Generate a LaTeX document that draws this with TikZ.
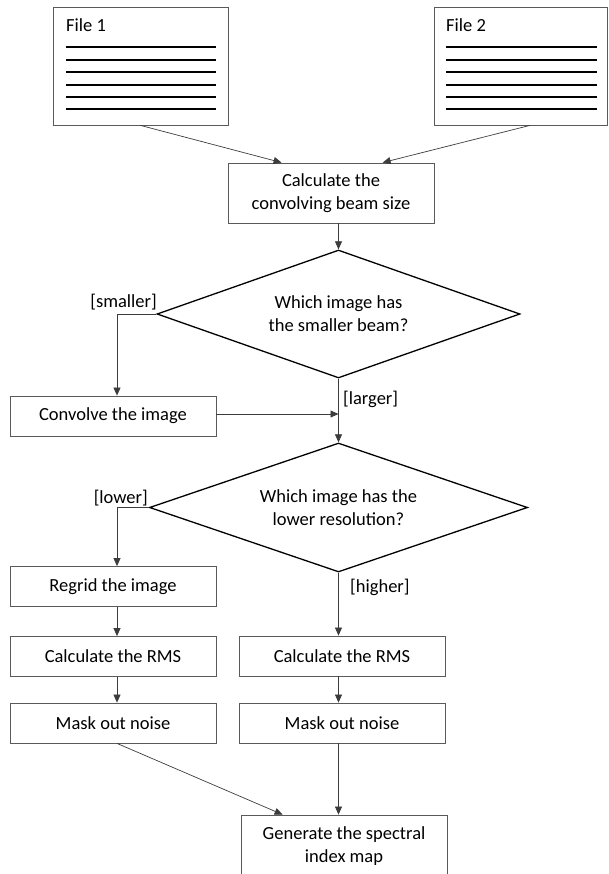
\documentclass[tikz,border=0pt]{standalone}
\usepackage{fontspec}
\setmainfont{Carlito}
\usetikzlibrary{shapes.geometric,arrows.meta}
\definecolor{boxgray}{HTML}{5A5A5A}
\definecolor{arrgray}{HTML}{3C3C3C}
\begin{document}
\begin{tikzpicture}[x=1pt,y=-1pt,
  every node/.style={font=\fontsize{18.5}{23}\selectfont},
  box/.style={draw=boxgray,line width=0.8pt,rectangle,minimum width=206pt,minimum height=40pt,inner sep=0pt,align=center},
  filebox/.style={draw=boxgray,line width=0.8pt,rectangle,inner sep=0pt},
  decision/.style={draw=black,line width=1.3pt,diamond,inner sep=0pt,align=center},
  arr/.style={draw=arrgray,line width=0.7pt,-{Triangle[length=8pt,width=7pt]}},
  lbl/.style={inner sep=0pt},
  txtline/.style={line width=2.3pt,black}
]
\useasboundingbox (0,0) rectangle (608,874);
% file boxes
\node[filebox,minimum width=175pt,minimum height=118pt] (f1) at (140.5,66) {};
\node[filebox,minimum width=173pt,minimum height=118pt] (f2) at (520.5,66) {};
\node[lbl,anchor=west] (f1t) at (66,25) {File 1};
\node[lbl,anchor=west] (f2t) at (446,25) {File 2};
\foreach \y in {47,60,72,85,97,109}{
  \draw[txtline] (66,\y) -- (216,\y);
  \draw[txtline] (446,\y) -- (597,\y);
}
% main nodes
\node[box,minimum height=60pt] (calc) at (331,193) {Calculate the\\convolving beam size};
\node[decision,aspect=2.84,minimum width=363pt,minimum height=128pt] (d1) at (338.5,314) {Which image has\\the smaller beam?};
\node[box] (conv) at (113,416) {Convolve the image};
\node[decision,aspect=2.93,minimum width=378pt,minimum height=129pt] (d2) at (338.5,507.5) {Which image has the\\lower resolution?};
\node[box] (regrid) at (113,586.5) {Regrid the image};
\node[box] (rmsl) at (113,656.5) {Calculate the RMS};
\node[box] (rmsr) at (342,656) {Calculate the RMS};
\node[box] (maskl) at (113,723) {Mask out noise};
\node[box] (maskr) at (342,723) {Mask out noise};
\node[box,minimum height=62pt] (gen) at (344,846) {Generate the spectral\\index map};
% labels
\node[lbl,anchor=east] (lsmall) at (157,302) {[smaller]};
\node[lbl,anchor=west] (llarge) at (343,399) {[larger]};
\node[lbl,anchor=east] (llower) at (148,498) {[lower]};
\node[lbl,anchor=west] (lhigher) at (350,587) {[higher]};
% connectors
\draw[arr] (f1.south) -- ([xshift=54pt]calc.north west);
\draw[arr] ([xshift=9.5pt]f2.south) -- ([xshift=155pt]calc.north west);
\draw[arr] (d1.north |- calc.south) -- (d1.north);
\draw[arr] (d1.west) -| ([xshift=4pt]conv.north);
\draw[arr] (d1.south) -- (d2.north);
\draw[arr] ([yshift=2pt]conv.east) -- ([yshift=2pt]conv.east -| d1.south);
\draw[arr] (d2.west) -| ([xshift=4pt]regrid.north);
\draw[arr] ([xshift=4pt]regrid.south) -- ([xshift=4pt]rmsl.north);
\draw[arr] ([xshift=4pt]rmsl.south) -- ([xshift=4pt]maskl.north);
\draw[arr] (d2.south) -- (d2.south |- rmsr.north);
\draw[arr] (rmsr.south -| d2.south) -- (maskr.north -| d2.south);
\draw[arr] ([xshift=4pt]maskl.south) -- ([xshift=42pt]gen.north west);
\draw[arr] (maskr.south -| d2.south) -- (gen.north -| d2.south);
\end{tikzpicture}
\end{document}
